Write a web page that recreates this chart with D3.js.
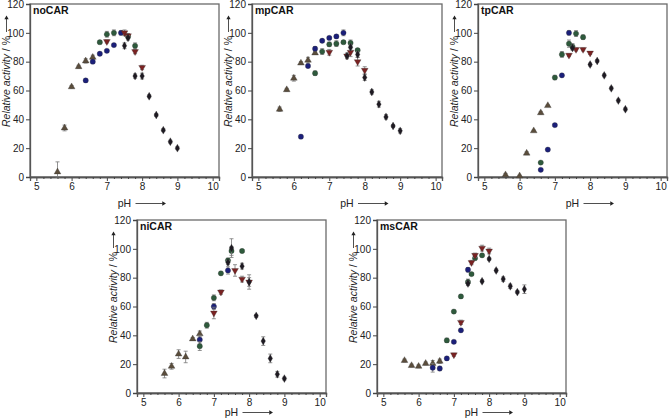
<!DOCTYPE html>
<html><head><meta charset="utf-8">
<script src="https://cdn.jsdelivr.net/npm/d3@7"></script>
<style>body{margin:0;background:#fff}svg{display:block}text{font-family:"Liberation Sans",Arial,sans-serif}</style>
</head><body><svg id="c" width="669" height="419"></svg>
<script>
// [pH, relative activity %, error]
const noCAR_up    = [[5.6,3.5,7],[5.8,34,2],[6.0,62.5,1],[6.2,76.5,1],[6.4,80.5,1.5],[6.6,83,1.5]];
const noCAR_blue  = [[6.4,67,1],[6.6,80,1],[6.8,85.5,1],[7.0,87.5,1],[7.2,91.5,1],[7.4,100,1.5]];
const noCAR_green = [[6.8,93.5,1],[7.0,99,2],[7.2,100,2],[7.6,97.5,1.5],[7.8,91,2]];
const noCAR_red   = [[7.0,94,1],[7.5,100,2],[7.6,98,1.5],[7.8,87,1.5],[8.0,76,1.5]];
const noCAR_black = [[7.5,91,2],[7.6,96.5,1.5],[7.8,70,1.5],[8.0,70,2],[8.2,56,1],[8.4,43,1],[8.6,32.5,1],[8.8,24.5,1],[9.0,20,1]];

const mpCAR_up    = [[5.6,47,1.5],[5.8,60.5,1],[6.0,68.5,2],[6.2,79,1],[6.4,81,2],[6.6,86,1]];
const mpCAR_blue  = [[6.2,28,1],[6.4,77,1],[6.6,89,1.5],[6.8,94.5,1],[7.0,96.5,1],[7.2,97.5,1],[7.4,100,2]];
const mpCAR_green = [[6.6,72,1.5],[6.8,87,2],[7.0,92,1.5],[7.2,92.5,2],[7.4,93.5,1],[7.6,93,2],[7.8,88,1]];
const mpCAR_red   = [[7.0,86.5,2],[7.5,84,2],[7.6,86.5,3],[7.8,80,3],[8.0,74,2.5]];
const mpCAR_black = [[7.5,84,1.5],[7.6,90,2],[7.8,85,2],[8.0,69,2],[8.2,59,1.5],[8.4,50.5,2],[8.6,41.7,1.5],[8.8,35.4,1],[9.0,32,1.5]];

const tpCAR_up    = [[5.6,1.5,1],[6.0,0.7,0.5],[6.2,16.5,1],[6.4,32,0.5],[6.6,44.5,1],[6.8,49.5,0.5]];
const tpCAR_blue  = [[6.6,5,0.5],[6.8,19,1],[7.0,36,1],[7.2,70.5,1],[7.4,100,1.5]];
const tpCAR_green = [[6.6,10,0.5],[7.0,69,1.5],[7.2,85,2],[7.4,92.5,2.5],[7.5,90.5,2],[7.6,99.5,2],[7.8,97,1.5]];
const tpCAR_red   = [[7.4,84.5,1],[7.6,88.5,1],[7.8,88.5,1],[8.0,86,1]];
const tpCAR_black = [[7.5,89.5,1.5],[8.0,78,1],[8.2,80.5,1],[8.4,70.5,1],[8.6,61.5,1],[8.8,53,1],[9.0,47,1]];

const niCAR_up    = [[5.6,13.5,3],[5.8,18.5,2],[6.0,27,3],[6.2,25,4],[6.4,37.5,1],[6.6,41,2]];
const niCAR_blue  = [[6.6,37,3],[7.0,60,2],[7.4,85,2.5]];
const niCAR_green = [[6.6,32.5,3],[6.8,47,2],[7.0,66,2],[7.2,83,1],[7.4,92,1.5],[7.5,98.5,3],[7.8,98.5,1]];
const niCAR_red   = [[7.0,55.5,4],[7.2,70,1.5],[7.6,85,4],[7.8,79,2],[8.0,77,5]];
const niCAR_black = [[7.4,90.5,1.5],[7.5,100.5,6.5],[7.8,88,2],[8.0,77,3],[8.2,53.5,1],[8.4,36,3],[8.6,24,3],[8.8,13,2],[9.0,10,1]];

const msCAR_up    = [[5.6,22.5,1],[5.8,19,1],[6.0,18.5,1],[6.2,20.5,1],[6.4,20.5,2],[6.6,22,1.5]];
const msCAR_blue  = [[6.4,17.5,3],[6.6,17,1.5],[6.8,24,1],[7.0,35.5,1],[7.2,43.5,1],[7.4,85.5,1.5]];
const msCAR_green = [[6.8,36.5,1.5],[7.0,56.5,1],[7.2,67,1],[7.4,77,2],[7.5,82.5,1],[7.6,93.5,1],[7.8,95.5,1]];
const msCAR_red   = [[7.0,26.5,1],[7.2,49,1.5],[7.5,90.5,1.5],[7.6,95.5,1.5],[7.8,100.5,2],[8.0,98.5,2]];
const msCAR_black = [[7.4,76,1.5],[7.8,77.5,1],[8.0,93,1],[8.2,85,1],[8.4,79,1.5],[8.6,74,1.5],[8.8,70,1],[9.0,72,3]];

const panelNames = ["noCAR","mpCAR","tpCAR","niCAR","msCAR"];
const xTicks = [5,6,7,8,9,10];
const yTicks = [0,20,40,60,80,100,120];
const yLabel = ["Relative activity", " / %"];
const xLabel = "pH";

const panelData = {
  noCAR:[noCAR_up,noCAR_blue,noCAR_green,noCAR_red,noCAR_black],
  mpCAR:[mpCAR_up,mpCAR_blue,mpCAR_green,mpCAR_red,mpCAR_black],
  tpCAR:[tpCAR_up,tpCAR_blue,tpCAR_green,tpCAR_red,tpCAR_black],
  niCAR:[niCAR_up,niCAR_blue,niCAR_green,niCAR_red,niCAR_black],
  msCAR:[msCAR_up,msCAR_blue,msCAR_green,msCAR_red,msCAR_black]
};

const seriesStyle = [
  {sym:d3.symbolTriangle, fill:"#5a4d3c", size:20, rot:0},
  {sym:d3.symbolCircle,   fill:"#1b1f7a", size:22, rot:0},
  {sym:d3.symbolCircle,   fill:"#2e5a3c", size:22, rot:0},
  {sym:d3.symbolTriangle, fill:"#7a2222", size:20, rot:180},
  {sym:d3.symbolDiamond,  fill:"#1e1a22", size:18, rot:0}
];

const layout = [
  {l:30,  r:219, t:4,   b:177, xl:30},
  {l:252, r:442, t:4,   b:177, xl:30},
  {l:478, r:667, t:4,   b:177, xl:30},
  {l:137, r:326, t:220, b:393, xl:23},
  {l:377, r:566, t:220, b:393, xl:23}
];

const svg = d3.select("#c");

panelNames.forEach((name,i)=>{
  const L = layout[i];
  const x = d3.scaleLinear().domain([4.82,10.18]).range([L.l,L.r]);
  const y = d3.scaleLinear().domain([0,120]).range([L.b,L.t]);
  const g = svg.append("g");

  g.append("rect").attr("x",L.l).attr("y",L.t).attr("width",L.r-L.l).attr("height",L.b-L.t)
    .attr("fill","none").attr("stroke","#6a6a6a").attr("stroke-width",1.3);

  g.append("g").attr("transform",`translate(0,${L.b})`)
    .call(d3.axisBottom(x).tickValues(xTicks).tickFormat(d3.format("d")).tickSize(4).tickPadding(2));
  g.append("g").attr("transform",`translate(0,${L.b})`)
    .call(d3.axisBottom(x).tickValues(d3.range(50,101,2).map(v=>v/10).filter(v=>!xTicks.includes(v))).tickFormat("").tickSize(2));
  g.append("g").attr("transform",`translate(${L.l},0)`)
    .call(d3.axisLeft(y).tickValues(yTicks).tickSize(4).tickPadding(2));
  g.selectAll(".domain").attr("stroke","#555").attr("stroke-width",1.3);
  g.selectAll(".tick line").attr("stroke","#444");
  g.selectAll(".tick text").attr("font-size","10px").attr("fill","#222")
    .attr("font-family","'Liberation Sans',Arial,sans-serif");

  g.append("text").attr("x",L.l+3).attr("y",L.t+10).attr("font-size","10.5px")
    .attr("font-weight","bold").attr("fill","#111").text(name);

  const yl = g.append("text").attr("transform",`translate(${L.l-20},${L.b-50}) rotate(-90)`)
    .attr("font-size","10.5px").attr("fill","#222");
  yl.append("tspan").attr("font-style","italic").text(yLabel[0]);
  yl.append("tspan").text(yLabel[1]);
  const ylen = 91;
  g.append("line").attr("x1",L.l-23.5).attr("x2",L.l-23.5)
    .attr("y1",L.b-50-ylen-4).attr("y2",L.b-50-ylen-17).attr("stroke","#222").attr("stroke-width",0.8);
  g.append("path").attr("d",d3.symbol().type(d3.symbolTriangle).size(8)())
    .attr("transform",`translate(${L.l-23.5},${L.b-50-ylen-18})`).attr("fill","#222");

  const cx = (L.l+L.r)/2;
  g.append("text").attr("x",cx).attr("y",L.b+L.xl).attr("text-anchor","middle")
    .attr("font-size","10.5px").attr("fill","#222").text(xLabel);
  g.append("line").attr("x1",cx+11).attr("x2",cx+38).attr("y1",L.b+L.xl-3.5).attr("y2",L.b+L.xl-3.5)
    .attr("stroke","#222").attr("stroke-width",0.8);
  g.append("path").attr("d",d3.symbol().type(d3.symbolTriangle).size(8)())
    .attr("transform",`translate(${cx+39},${L.b+L.xl-3.5}) rotate(90)`).attr("fill","#222");

  panelData[name].forEach((ser,si)=>{
    const st = seriesStyle[si];
    const eg = g.append("g");
    ser.forEach(d=>{
      const px = x(d[0]), y1 = y(d[1]+d[2]), y2 = y(Math.max(0,d[1]-d[2]));
      eg.append("line").attr("x1",px).attr("x2",px).attr("y1",y1).attr("y2",y2).attr("stroke","#777").attr("stroke-width",0.8);
      eg.append("line").attr("x1",px-2).attr("x2",px+2).attr("y1",y1).attr("y2",y1).attr("stroke","#777").attr("stroke-width",0.8);
      eg.append("line").attr("x1",px-2).attr("x2",px+2).attr("y1",y2).attr("y2",y2).attr("stroke","#777").attr("stroke-width",0.8);
    });
    g.append("g").selectAll("path").data(ser).join("path")
      .attr("d",d3.symbol().type(st.sym).size(st.size)())
      .attr("transform",d=>`translate(${x(d[0])},${y(d[1])}) rotate(${st.rot})`)
      .attr("fill",st.fill).attr("stroke","#333").attr("stroke-width",0.3);
  });
});
</script></body></html>
